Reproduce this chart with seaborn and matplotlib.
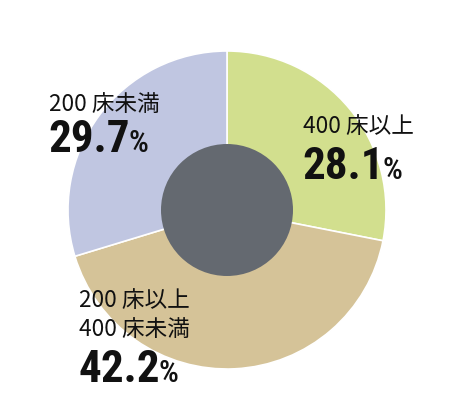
import os
import matplotlib
matplotlib.use("Agg")
import matplotlib.pyplot as plt
import numpy as np
import pandas as pd
import seaborn as sns
from matplotlib import font_manager as fm
from matplotlib.textpath import TextPath
from matplotlib.patches import Circle

# ---------------- data ----------------
categories = ["400床以上", "200床以上400床未満", "200床未満"]
label_lines = [["400 床以上"], ["200 床以上", "400 床未満"], ["200 床未満"]]
values = [28.1, 42.2, 29.7]
pct_text = ["28.1", "42.2", "29.7"]
colors = ["#d2df8e", "#d5c398", "#c0c6e1"]
center_color = "#646970"

df = pd.DataFrame({"category": categories, "value": values})

# ---------------- style ----------------
sns.set_theme(style="white")
plt.rcParams["font.family"] = ["Noto Sans CJK JP", "DejaVu Sans"]


def pick_font(prefs):
    files = [f.fname for f in fm.fontManager.ttflist]
    for p in prefs:
        for fn in files:
            if os.path.basename(fn).lower().startswith(p):
                return fm.FontProperties(fname=fn)
    return None


bold_prefs = ["notosans-extracondensedbold", "liberationsansnarrow-bold.",
              "robotocondensed-bold", "notosans-condensedbold",
              "opensans-condbold", "opensans_condensed-bold",
              "opensans-condensedbold", "dejavusanscondensed-bold.",
              "notosans-semicondensedbold"]
reg_prefs = ["notosans-extracondensedmedium", "notosans-extracondensed.",
             "liberationsansnarrow-regular", "robotocondensed-medium",
             "robotocondensed-regular",
             "notosans-condensedmedium", "notosans-condensed.",
             "dejavusanscondensed."]

num_fp = pick_font(bold_prefs)
if num_fp is None:
    num_fp = fm.FontProperties(family="DejaVu Sans", weight="bold")
pct_fp = pick_font(reg_prefs)
if pct_fp is None:
    pct_fp = num_fp


def size_for_height(fp, s, px):
    h = TextPath((0, 0), s, size=100, prop=fp).get_extents().height / 100.0
    return px / h * 72.0 / 100.0


num_size = size_for_height(num_fp, "0", 33)
pct_size = size_for_height(pct_fp, "%", 23)

# ---------------- figure ----------------
W, H = 451, 417
fig = plt.figure(figsize=(W / 100, H / 100), dpi=100)
cx, cy, R = 227, 210, 159
ax = fig.add_axes([(cx - R) / W, (H - cy - R) / H, 2 * R / W, 2 * R / H])

ax.pie(df["value"], colors=colors, startangle=90, counterclock=False,
       radius=1, wedgeprops=dict(edgecolor="white", linewidth=1.2))
ax.add_patch(Circle((0, 0), 66 / R, facecolor=center_color, edgecolor="none", zorder=5))
ax.set_xlim(-1, 1)
ax.set_ylim(-1, 1)
ax.axis("off")


def X(px):
    return (px - cx) / R


def Y(py):
    return (cy - py) / R


# label placement (left x, label baselines, number baseline) in pixels
layout = [
    (303, [133], 179),
    (79, [307, 336], 382),
    (49, [111], 152),
]

num_texts = []
for (lx, lbs, nb), lines, pt in zip(layout, label_lines, pct_text):
    for ln, b in zip(lines, lbs):
        ax.text(X(lx), Y(b), ln, fontsize=16.3, color="#111111",
                ha="left", va="baseline", zorder=10)
    t = ax.text(X(lx - 1), Y(nb), pt, fontproperties=num_fp, fontsize=num_size,
                color="#111111", ha="left", va="baseline", zorder=10)
    num_texts.append((t, nb))

fig.canvas.draw()
renderer = fig.canvas.get_renderer()
for t, nb in num_texts:
    bb = t.get_window_extent(renderer)
    x_disp = bb.x1 - 1
    y_disp = ax.transData.transform((0, Y(nb)))[1]
    xd, yd = ax.transData.inverted().transform((x_disp, y_disp))
    ax.text(xd, yd, "%", fontproperties=pct_fp, fontsize=pct_size,
            color="#111111", ha="left", va="baseline", zorder=10)

fig.savefig("out.png", dpi=100, facecolor="white")
